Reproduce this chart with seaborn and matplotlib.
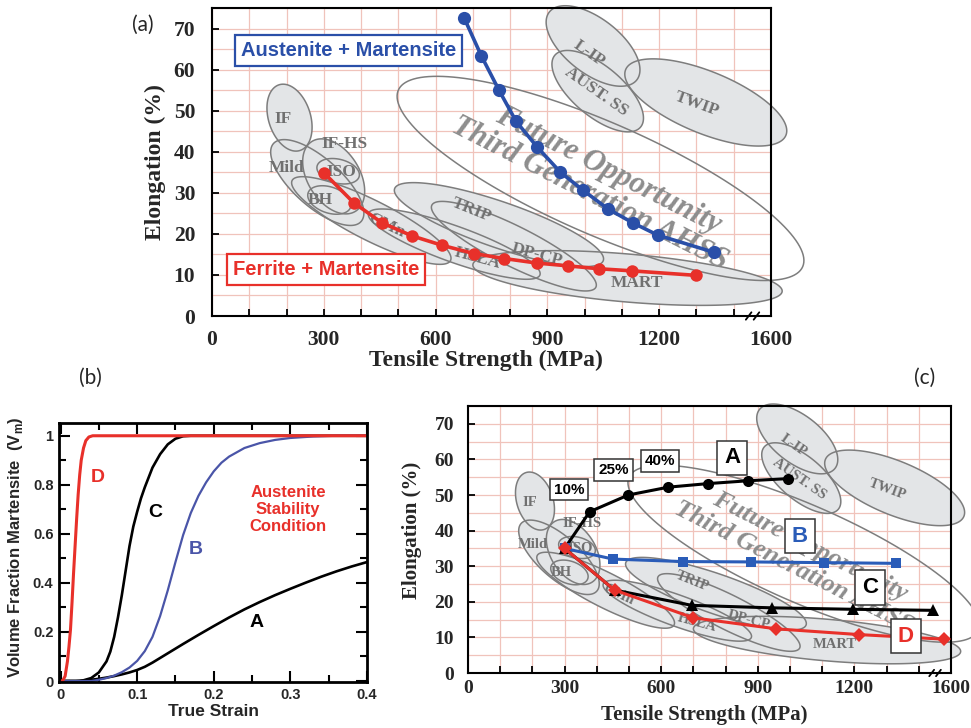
import numpy as np
import matplotlib
matplotlib.use("Agg")
import matplotlib.pyplot as plt
from matplotlib.patches import Polygon
from matplotlib.ticker import MultipleLocator, FixedLocator, FuncFormatter
import seaborn as sns

sns.set_theme(style="white")
plt.rcParams["font.family"] = ["Liberation Sans", "DejaVu Sans"]
plt.rcParams["mathtext.fontset"] = "custom"
plt.rcParams["mathtext.bf"] = "Liberation Sans:bold"
plt.rcParams["mathtext.rm"] = "Liberation Sans:bold"

SERIF = ["Liberation Serif", "DejaVu Serif"]
SANS = ["Liberation Sans", "DejaVu Sans"]

# ---------------- (a) two-phase mixtures ----------------
am_strength = [677, 723, 770, 816, 873, 935, 996, 1062, 1129, 1196, 1347]
am_elong = [72.5, 63.3, 55.0, 47.4, 41.1, 35.0, 30.6, 26.1, 22.7, 19.7, 15.5]
fm_strength = [300, 380, 456, 537, 618, 703, 784, 871, 956, 1039, 1126, 1298]
fm_elong = [34.9, 27.6, 22.7, 19.5, 17.2, 15.2, 14.0, 12.9, 12.2, 11.5, 11.0, 9.9]

# ---------------- (b) martensite fraction vs true strain ----------------
strain_A = [0, 0.02, 0.03, 0.04, 0.05, 0.06, 0.07, 0.08, 0.09, 0.10, 0.11, 0.12, 0.13,
            0.14, 0.15, 0.16, 0.18, 0.20, 0.22, 0.24, 0.26, 0.28, 0.30, 0.32, 0.34,
            0.36, 0.38, 0.40]
vm_A = [0, 0, 0.002, 0.005, 0.009, 0.014, 0.020, 0.027, 0.035, 0.045, 0.058, 0.075, 0.094,
        0.113, 0.132, 0.151, 0.188, 0.224, 0.259, 0.292, 0.322, 0.350, 0.376, 0.401, 0.425,
        0.447, 0.467, 0.485]
strain_B = [0, 0.04, 0.05, 0.06, 0.07, 0.08, 0.09, 0.10, 0.11, 0.12, 0.13, 0.14, 0.15,
            0.16, 0.17, 0.18, 0.19, 0.20, 0.21, 0.22, 0.24, 0.26, 0.28, 0.30, 0.33, 0.36, 0.40]
vm_B = [0, 0, 0.005, 0.012, 0.022, 0.036, 0.055, 0.082, 0.122, 0.180, 0.265, 0.370, 0.485,
        0.595, 0.685, 0.755, 0.810, 0.855, 0.890, 0.915, 0.950, 0.970, 0.983, 0.991, 0.997,
        1.0, 1.0]
strain_C = [0, 0.025, 0.03, 0.04, 0.05, 0.06, 0.065, 0.07, 0.075, 0.08, 0.085, 0.09, 0.095,
            0.10, 0.105, 0.11, 0.115, 0.12, 0.13, 0.14, 0.15, 0.16, 0.17, 0.40]
vm_C = [0, 0, 0.003, 0.012, 0.035, 0.080, 0.120, 0.180, 0.260, 0.350, 0.450, 0.550, 0.630,
        0.690, 0.745, 0.790, 0.830, 0.870, 0.925, 0.965, 0.988, 0.998, 1.0, 1.0]
strain_D = [0, 0.003, 0.006, 0.009, 0.011, 0.013, 0.015, 0.017, 0.019, 0.021, 0.023, 0.025,
            0.027, 0.030, 0.033, 0.037, 0.042, 0.40]
vm_D = [0, 0.002, 0.020, 0.080, 0.140, 0.210, 0.320, 0.440, 0.550, 0.660, 0.760, 0.840,
        0.900, 0.950, 0.980, 0.995, 1.0, 1.0]

# ---------------- (c) predicted strength / elongation paths ----------------
path_A_strength = [300, 378, 498, 622, 745, 870, 993]
path_A_elong = [35.0, 45.3, 50.0, 52.2, 53.2, 54.0, 54.6]
path_B_strength = [300, 450, 668, 880, 1105, 1328]
path_B_elong = [35.0, 32.0, 31.3, 31.2, 31.0, 30.8]
path_C_strength = [300, 455, 695, 945, 1195, 1445]
path_C_elong = [35.0, 23.3, 19.0, 18.3, 17.9, 17.6]
path_D_strength = [300, 455, 700, 958, 1213, 1478]
path_D_elong = [35.0, 23.3, 15.5, 12.4, 10.8, 9.5]

# steel families: name, major-axis ends (MPa, %), minor axis (px on upper panel)
fam_names = ["IF", "IF-HS", "Mild", "ISO", "BH", "CMn", "HSLA", "TRIP", "DP-CP",
             "MART", "L-IP", "AUST. SS", "TWIP"]
fam_ends = [((180, 56.3), (236, 40.3)), ((268, 42.5), (385, 25.5)), ((165, 42), (400, 23)),
            ((282, 36.5), (395, 34)), ((258, 30), (372, 26.5)), ((215, 33), (640, 13.5)),
            ((420, 25), (880, 10)), ((490, 31), (1050, 13.5)), ((590, 27), (1030, 7)),
            ((700, 12.5), (1530, 6)), ((905, 74), (1140, 57.5)), ((920, 63.5), (1150, 46)),
            ((1110, 60), (1540, 44))]
fam_minor = [42, 52, 48, 24, 26, 40, 36, 46, 40, 48, 55, 50, 62]
fam_label_pos = [(192, 48), (355, 42), (200, 36), (348, 35), (290, 28.3), (468, 22),
                 (712, 14), (695, 25.8), (872, 14.8), (1140, 8), (1012, 64), (1030, 54.5),
                 (1302, 51.6)]
fam_label_rot = [0, 0, 0, 0, 0, -25, -15, -22, -15, 0, -35, -35, -20]
future_ends = ((500, 55), (1585, 12))
future_minor = 112
future_text = ["Future Opportunity", "Third Generation AHSS"]
future_pos = [(1063, 35.4), (1013, 29.8)]

x_tick_vals = [0, 300, 600, 900, 1200, 1500]
x_tick_text = ["0", "300", "600", "900", "1200", "1600"]

BLUE = "#2a4fa8"
RED = "#e8302a"
FILL = "#e3e5e7"
EDGE = "#7d7d7d"
GRID = "#f0c3bb"
KX, KY = 0.3729, 4.11  # pixels per MPa and per % on the upper panel


def ellipse_pts(p1, p2, minor, n=160):
    (x1, y1), (x2, y2) = p1, p2
    cx, cy = (x1 + x2) / 2, (y1 + y2) / 2
    dx, dy = (x2 - x1) * KX, (y2 - y1) * KY
    a, b = np.hypot(dx, dy) / 2, minor / 2
    th = np.arctan2(dy, dx)
    t = np.linspace(0, 2 * np.pi, n)
    px = a * np.cos(t) * np.cos(th) - b * np.sin(t) * np.sin(th)
    py = a * np.cos(t) * np.sin(th) + b * np.sin(t) * np.cos(th)
    return np.column_stack([cx + px / KX, cy + py / KY])


def strength_axes(ax, tick_size, label_size, fam_size, future_size, ypad, xpad,
                  xlab_y, ylab_x, ylab_y=0.5):
    ax.set_xlim(0, 1500)
    ax.set_ylim(0, 75)
    ax.xaxis.set_major_locator(MultipleLocator(100))
    ax.xaxis.set_major_formatter(FuncFormatter(
        lambda v, p: x_tick_text[x_tick_vals.index(int(round(v)))]
        if int(round(v)) in x_tick_vals else ""))
    ax.yaxis.set_major_locator(FixedLocator(range(0, 71, 10)))
    ax.yaxis.set_minor_locator(MultipleLocator(5))
    ax.set_axisbelow(True)
    ax.grid(which="major", axis="x", color=GRID, lw=0.9, zorder=0)
    ax.grid(which="both", axis="y", color=GRID, lw=0.9, zorder=0)
    ax.tick_params(which="major", direction="in", length=5, width=1.3, color="black",
                   bottom=True, left=True, top=False, right=False)
    ax.tick_params(which="minor", length=0)
    ax.tick_params(axis="y", pad=ypad)
    ax.tick_params(axis="x", pad=xpad)
    for lab in ax.get_xticklabels() + ax.get_yticklabels():
        lab.set_fontfamily(SERIF)
        lab.set_fontweight("bold")
        lab.set_fontsize(tick_size)
    for s in ax.spines.values():
        s.set_linewidth(1.5)
        s.set_color("black")
    ax.set_xlabel("Tensile Strength (MPa)", family=SERIF, weight="bold", fontsize=label_size)
    ax.set_ylabel("Elongation (%)", family=SERIF, weight="bold", fontsize=label_size)
    ax.xaxis.set_label_coords(0.49, xlab_y)
    ax.yaxis.set_label_coords(ylab_x, ylab_y)

    polys = [ellipse_pts(p1, p2, m) for (p1, p2), m in zip(fam_ends, fam_minor)]
    for pts in polys:
        ax.add_patch(Polygon(pts, closed=True, fc=FILL, ec="none", zorder=1, clip_on=False))
    for pts in polys:
        ax.add_patch(Polygon(pts, closed=True, fill=False, ec=EDGE, lw=1.1, zorder=1.5,
                             clip_on=False))
    ax.add_patch(Polygon(ellipse_pts(*future_ends, future_minor), closed=True, fill=False,
                         ec=EDGE, lw=1.1, zorder=1.5, clip_on=False))
    for name, (lx, ly), rot in zip(fam_names, fam_label_pos, fam_label_rot):
        ax.text(lx, ly, name, family=SERIF, weight="bold", fontsize=fam_size, color="#707070",
                ha="center", va="center", rotation=rot, rotation_mode="anchor", zorder=2)
    for txt, (tx, ty) in zip(future_text, future_pos):
        ax.text(tx, ty, txt, family=SERIF, weight="bold", style="italic", fontsize=future_size,
                color="#8d8d8d", ha="center", va="center", rotation=-27,
                rotation_mode="anchor", zorder=2)
    # axis break on the strength axis
    for off in (-0.007, 0.007):
        ax.plot([0.962 + off, 0.972 + off], [-0.012, 0.012], transform=ax.transAxes,
                color="black", lw=1.3, clip_on=False, zorder=6)


W, H = 971, 728
fig = plt.figure(figsize=(W / 100, H / 100), dpi=100)


def frame(l, t, r, b):
    return [l / W, 1 - b / H, (r - l) / W, (b - t) / H]


ax_a = fig.add_axes(frame(212, 8, 771, 316))
ax_b = fig.add_axes(frame(59, 423, 367, 682))
ax_c = fig.add_axes(frame(468, 406, 951, 673))

# ---------- (a) ----------
strength_axes(ax_a, 15.5, 17, 12.5, 22, ypad=12, xpad=10, xlab_y=-0.11, ylab_x=-0.083)
sns.lineplot(x=am_strength, y=am_elong, ax=ax_a, color=BLUE, lw=2.6, marker="o",
             markersize=9.5, markeredgewidth=0, sort=False, zorder=4)
sns.lineplot(x=fm_strength, y=fm_elong, ax=ax_a, color=RED, lw=2.6, marker="o",
             markersize=9, markeredgewidth=0, sort=False, zorder=4)
ax_a.text(366, 64.7, "Austenite + Martensite", family=SANS, weight="bold", fontsize=14.5,
          color=BLUE, ha="center", va="center", zorder=5,
          bbox=dict(boxstyle="square,pad=0.3", fc="white", ec=BLUE, lw=1.6))
ax_a.text(306, 11.4, "Ferrite + Martensite", family=SANS, weight="bold", fontsize=14.5,
          color=RED, ha="center", va="center", zorder=5,
          bbox=dict(boxstyle="square,pad=0.3", fc="white", ec=RED, lw=1.6))

# ---------- (b) ----------
sns.lineplot(x=strain_A, y=vm_A, ax=ax_b, color="black", lw=1.9, sort=False)
sns.lineplot(x=strain_C, y=vm_C, ax=ax_b, color="black", lw=1.9, sort=False)
sns.lineplot(x=strain_B, y=vm_B, ax=ax_b, color="#4a55a8", lw=1.6, sort=False)
sns.lineplot(x=strain_D, y=vm_D, ax=ax_b, color=RED, lw=2.2, sort=False)
ax_b.set_xlim(-0.002, 0.4)
ax_b.set_ylim(-0.004, 1.052)
ax_b.xaxis.set_major_locator(MultipleLocator(0.1))
ax_b.xaxis.set_minor_locator(MultipleLocator(0.05))
ax_b.yaxis.set_major_locator(MultipleLocator(0.2))
ax_b.yaxis.set_minor_locator(MultipleLocator(0.1))
fmt = FuncFormatter(lambda v, p: f"{round(v, 2):g}")
ax_b.xaxis.set_major_formatter(fmt)
ax_b.yaxis.set_major_formatter(fmt)
ax_b.tick_params(which="both", direction="in", top=True, right=True, bottom=True, left=True,
                 width=1.5, color="black")
ax_b.tick_params(which="major", length=8)
ax_b.tick_params(which="minor", length=5)
ax_b.tick_params(axis="both", pad=4)
for lab in ax_b.get_xticklabels() + ax_b.get_yticklabels():
    lab.set_fontfamily(SANS)
    lab.set_fontweight("bold")
    lab.set_fontsize(10.5)
for s in ax_b.spines.values():
    s.set_linewidth(2)
    s.set_color("black")
ax_b.set_xlabel("True Strain", family=SANS, weight="bold", fontsize=12.5)
ax_b.set_ylabel("Volume Fraction Martensite  (V$_{\\mathbf{m}}$)", family=SANS,
                weight="bold", fontsize=12)
ax_b.xaxis.set_label_coords(0.5, -0.085)
ax_b.yaxis.set_label_coords(-0.11, 0.52)
ax_b.text(0.049, 0.83, "D", color=RED, family=SANS, weight="bold", fontsize=14,
          ha="center", va="center")
ax_b.text(0.123, 0.688, "C", color="black", family=SANS, weight="bold", fontsize=14,
          ha="center", va="center")
ax_b.text(0.176, 0.537, "B", color="#4a55a8", family=SANS, weight="bold", fontsize=14,
          ha="center", va="center")
ax_b.text(0.256, 0.24, "A", color="black", family=SANS, weight="bold", fontsize=14,
          ha="center", va="center")
ax_b.text(0.297, 0.70, "Austenite\nStability\nCondition", color=RED, family=SANS,
          weight="bold", fontsize=12, ha="center", va="center", linespacing=1.15)

# ---------- (c) ----------
strength_axes(ax_c, 14, 15, 10.5, 19, ypad=10, xpad=5, xlab_y=-0.118, ylab_x=-0.095,
              ylab_y=0.536)
sns.lineplot(x=path_A_strength, y=path_A_elong, ax=ax_c, color="black", lw=2.2, marker="o",
             markersize=8, markeredgewidth=0, sort=False, zorder=4)
sns.lineplot(x=path_B_strength, y=path_B_elong, ax=ax_c, color="#2a5cb8", lw=2.2, marker="s",
             markersize=7.5, markeredgewidth=0, sort=False, zorder=4)
sns.lineplot(x=path_C_strength, y=path_C_elong, ax=ax_c, color="black", lw=2.2, marker="^",
             markersize=8, markeredgewidth=0, sort=False, zorder=4)
sns.lineplot(x=path_D_strength, y=path_D_elong, ax=ax_c, color=RED, lw=2.2, marker="D",
             markersize=7.5, markeredgewidth=0, sort=False, zorder=4.5)
box_kw = dict(boxstyle="square,pad=0.25", fc="white", ec="#333333", lw=1.1)
for txt, (tx, ty) in zip(["10%", "25%", "40%"], [(315, 51.5), (452, 57.0), (597, 59.6)]):
    ax_c.text(tx, ty, txt, family=SANS, weight="bold", fontsize=11, color="black",
              ha="center", va="center", zorder=5, bbox=box_kw)
for txt, (tx, ty), col in zip(["A", "B", "C", "D"],
                              [(820, 60.4), (1031, 38.4), (1248, 24.0), (1360, 10.3)],
                              ["black", "#2a5cb8", "black", RED]):
    ax_c.text(tx, ty, txt, family=SANS, weight="bold", fontsize=16, color=col,
              ha="center", va="center", zorder=5,
              bbox=dict(boxstyle="square,pad=0.3", fc="white", ec="#333333", lw=1.1))

# panel letters
for txt, (px, py) in zip(["(a)", "(b)", "(c)"], [(143, 25), (90, 378), (925, 378)]):
    fig.text(px / W, 1 - py / H, txt, fontsize=15, family=["Lato", "DejaVu Sans"],
             ha="center", va="center")

fig.savefig("out.png", dpi=100)
